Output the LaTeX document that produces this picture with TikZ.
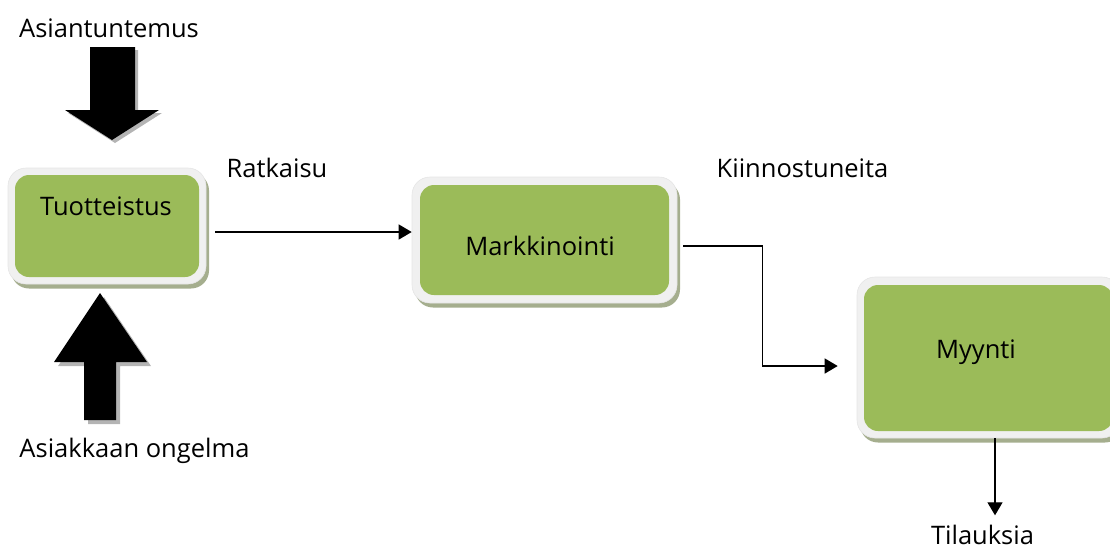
\documentclass[tikz,border=0pt]{standalone}
\usepackage{fontspec}
\setmainfont{Open Sans}
\usetikzlibrary{arrows.meta,calc,shadows}
\definecolor{boxgreen}{HTML}{9BBB59}
\definecolor{framegray}{HTML}{F0F0F0}
\definecolor{rimshadow}{HTML}{A5AE8E}
\definecolor{arrowshade}{HTML}{B4B4B4}
\begin{document}
\begin{tikzpicture}[x=1pt,y=-1pt,
  frame/.style={rounded corners=18pt, fill=framegray, draw=black!10, line width=0.6pt,
    inner sep=0pt, drop shadow={shadow xshift=3pt, shadow yshift=-4.5pt, fill=rimshadow, opacity=1}},
  stage/.style={rounded corners=14pt, fill=boxgreen, inner sep=0pt},
  caption/.style={anchor=base, inner sep=0pt, font=\fontsize{25.5}{30}\selectfont},
  conn/.style={line width=1.3pt, -{Triangle[length=13pt,width=15pt]}},
  blockshade/.style={fill=arrowshade},
  block/.style={fill=black}
]
\useasboundingbox (0,0) rectangle (1110,550);
\clip (0,0) rectangle (1110,550);

% process boxes: light frame with a shadow, green panel on top
\node[frame, minimum width=198pt, minimum height=116pt] (frameA) at (107,226) {};
\node[stage, minimum width=184pt, minimum height=102pt] (boxA) at (107,226) {};
\node[frame, minimum width=265pt, minimum height=126pt] (frameB) at (544.5,240) {};
\node[stage, minimum width=249pt, minimum height=110pt] (boxB) at (544.5,240) {};
\node[frame, minimum width=263pt, minimum height=161pt] (frameC) at (988.5,357.5) {};
\node[stage, minimum width=249pt, minimum height=146pt] (boxC) at (988.5,358) {};

% box titles
\node[caption] (tuotteistus) at (106,215) {Tuotteistus};
\node[caption] (markkinointi) at (540,255) {Markkinointi};
\node[caption] (myynti) at (976,358) {Myynti};

% free labels
\node[caption] (asiantuntemus) at (109,37) {Asiantuntemus};
\node[caption] (ratkaisu) at (277,177) {Ratkaisu};
\node[caption] (kiinnostuneita) at (802.5,177) {Kiinnostuneita};
\node[caption] (ongelma) at (134.5,457) {Asiakkaan ongelma};
\node[caption] (tilauksia) at (982.5,544) {Tilauksia};

% block arrow pointing down onto the first box
\begin{scope}[shift={(3,3)}]
  \fill[blockshade] (90,47) -- (135,47) -- (135,110) -- (159,110) -- (112,140) -- (65,110) -- (90,110) -- cycle;
\end{scope}
\fill[block] (90,47) -- (135,47) -- (135,110) -- (159,110) -- (112,140) -- (65,110) -- (90,110) -- cycle;

% block arrow pointing up into the first box
\begin{scope}[shift={(4,4)}]
  \fill[blockshade] (84,420) -- (116,420) -- (116,362) -- (147,362) -- (100,293) -- (54,362) -- (84,362) -- cycle;
\end{scope}
\fill[block] (84,420) -- (116,420) -- (116,362) -- (147,362) -- (100,293) -- (54,362) -- (84,362) -- cycle;

% connectors
\draw[conn] ($(frameA.east)+(9,6)$) coordinate (solStart) -- (frameB.west |- solStart);
\draw[conn] ($(frameB.east)+(6,6)$) -- ++(79,0) |- ($(frameC.west)+(-19,8.5)$);
\draw[conn] ($(frameC.south)+(6.5,0)$) -- ++(0,77) coordinate (orderTip);
\end{tikzpicture}
\end{document}
